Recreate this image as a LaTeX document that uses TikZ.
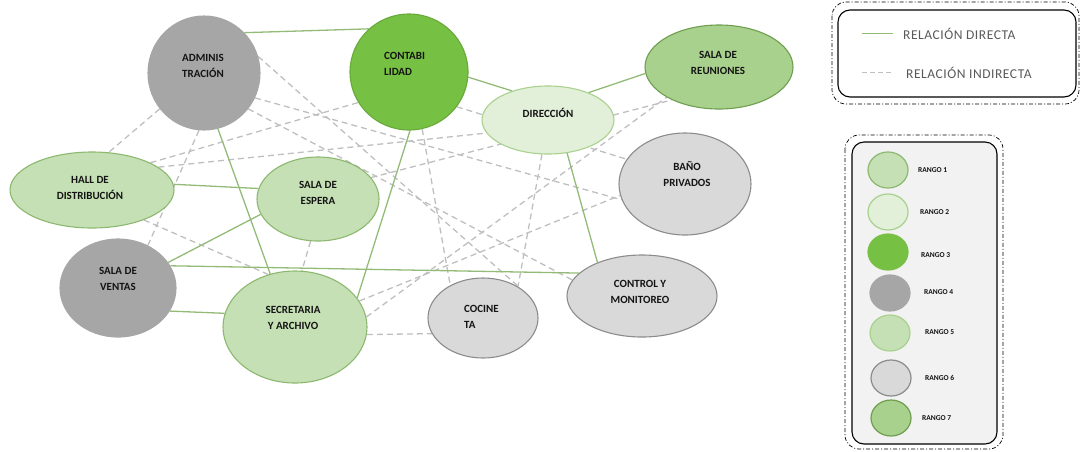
\documentclass[tikz,border=0pt]{standalone}
\usepackage{fontspec}
\setmainfont{Carlito}
\usetikzlibrary{shapes.geometric}
\pgfdeclarelayer{bg}
\pgfsetlayers{bg,main}
\definecolor{gA}{HTML}{A6A6A6}
\definecolor{gB}{HTML}{D9D9D9}
\definecolor{gBd}{HTML}{8C8C8C}
\definecolor{vA}{HTML}{C5E0B4}
\definecolor{vAd}{HTML}{8DB870}
\definecolor{vB}{HTML}{E2EFD9}
\definecolor{vBd}{HTML}{A9D18E}
\definecolor{vC}{HTML}{76C043}
\definecolor{vCd}{HTML}{68AA3A}
\definecolor{vD}{HTML}{A9D18E}
\definecolor{vDd}{HTML}{6F9E4F}
\definecolor{rel}{HTML}{93BB78}
\definecolor{ind}{HTML}{BFBFBF}
\definecolor{txt}{HTML}{141414}
\definecolor{legtxt}{HTML}{595959}
\definecolor{legbg}{HTML}{F2F2F2}
\tikzset{
  ell/.style={ellipse, inner sep=0pt, line width=1.1pt},
  lbl/.style={font=\fontsize{11}{16.5}\selectfont\bfseries, text=txt, align=center, inner sep=0pt},
  lbll/.style={lbl, align=left, anchor=west},
  direct/.style={draw=rel, line width=1.3pt},
  indirect/.style={draw=ind, line width=1.3pt, dash pattern=on 6pt off 4pt},
  legbox/.style={draw=black, line width=1.1pt, rounded corners=12pt},
  legouter/.style={draw=black, line width=0.7pt, dash pattern=on 4pt off 2pt on 1pt off 2pt, rounded corners=14pt},
  legdot/.style={ellipse, inner sep=0pt, minimum width=40pt, minimum height=36pt, line width=1.2pt},
  rgtxt/.style={font=\fontsize{7.5}{9}\selectfont\bfseries, text=txt, anchor=west, inner sep=0pt},
  reltxt/.style={font=\fontsize{13.5}{15}\selectfont\addfontfeatures{LetterSpace=4}, text=legtxt, anchor=west, inner sep=0pt}
}
\begin{document}
\begin{tikzpicture}[x=1pt,y=-1pt]
\useasboundingbox (0,0) rectangle (1081,451);
% ---------- nodes ----------
\node[ell, fill=gA, draw=gA, minimum width=112pt, minimum height=114pt] (admin) at (204,73) {};
\node[ell, fill=vC, draw=vCd, minimum width=118pt, minimum height=116pt] (contab) at (409,72) {};
\node[ell, fill=vB, draw=vBd, minimum width=132pt, minimum height=68pt] (dir) at (548,120) {};
\node[ell, fill=vD, draw=vDd, minimum width=148pt, minimum height=84pt] (reun) at (719,67) {};
\node[ell, fill=gB, draw=gBd, minimum width=132pt, minimum height=102pt] (bano) at (685,184) {};
\node[ell, fill=vA, draw=vAd, minimum width=164pt, minimum height=76pt] (hall) at (92,190) {};
\node[ell, fill=vA, draw=vAd, minimum width=122pt, minimum height=84pt] (espera) at (318,199) {};
\node[ell, fill=gA, draw=gA, minimum width=116pt, minimum height=98pt] (ventas) at (118,288) {};
\node[ell, fill=vA, draw=vAd, minimum width=144pt, minimum height=112pt] (secret) at (295,327) {};
\node[ell, fill=gB, draw=gBd, minimum width=110pt, minimum height=80pt] (cocina) at (483,318) {};
\node[ell, fill=gB, draw=gBd, minimum width=150pt, minimum height=82pt] (control) at (642,296) {};
% ---------- labels ----------
\node[lbl] (adminT) at (203,66) {ADMINIS\\TRACIÓN};
\node[lbll] (contabT) at (384,64) {CONTABI\\LIDAD};
\node[lbl] (dirT) at (548,113) {DIRECCIÓN};
\node[lbl] (reunT) at (718,63) {SALA DE\\REUNIONES};
\node[lbl] (banoT) at (687,174) {BAÑO\\PRIVADOS};
\node[lbl] (hallT) at (90,188) {HALL DE\\DISTRIBUCIÓN};
\node[lbl] (esperaT) at (318,193) {SALA DE\\ESPERA};
\node[lbl] (ventasT) at (118,279) {SALA DE\\VENTAS};
\node[lbl] (secretT) at (293,318) {SECRETARIA\\Y ARCHIVO};
\node[lbll] (cocinaT) at (464,317) {COCINE\\TA};
\node[lbl] (controlT) at (640,292) {CONTROL Y\\MONITOREO};
\begin{pgfonlayer}{bg}
% ---------- indirect connectors ----------
\draw[indirect] (admin.219) -- (hall.66);
\draw[indirect] (admin.-95) -- (ventas.55);
\draw[indirect] (admin.-26) -- (bano.194);
\draw[indirect] (admin.17) -- (cocina.40);
\draw[indirect] (admin.-39) -- (control.167);
\draw[indirect] (hall.25) -- (contab.211);
\draw[indirect] (hall.19) -- (dir.192);
\draw[indirect] (hall.-30) -- (secret.117);
\draw[indirect] (espera.-100) -- (secret.83);
\draw[indirect] (espera.22) -- (reun.215);
\draw[indirect] (contab.-77) -- (cocina.135);
\draw[indirect] (contab.-36) -- (bano.157);
\draw[indirect] (dir.-100) -- (cocina.42);
\draw[indirect] (secret.8) -- (reun.210);
\draw[indirect] (secret.22) -- (bano.190);
\draw[indirect] (secret.-6) -- (cocina.197);
% ---------- direct connectors ----------
\draw[direct] (admin.45) -- (contab.133);
\draw[direct] (contab.-5) -- (dir.141);
\draw[direct] (dir.34) -- (reun.185);
\draw[direct] (hall.4) -- (espera.170);
\draw[direct] (admin.-76) -- (secret.115);
\draw[direct] (contab.-89) -- (secret.25);
\draw[direct] (ventas.27) -- (espera.195);
\draw[direct] (ventas.23) -- (control.160);
\draw[direct] (ventas.-24) -- (secret.169);
\draw[direct] (dir.-60) -- (control.143);
\end{pgfonlayer}
% ---------- legend 1 ----------
\draw[legouter] (832,2) rectangle (1079,104);
\draw[legbox] (838,10) rectangle (1076,97);
\coordinate (l1a) at (862,33);
\coordinate (l1b) at (893,33);
\coordinate (l2a) at (862,72);
\coordinate (l2b) at (893,72);
\draw[direct, line width=1pt] (l1a) -- (l1b);
\draw[indirect, line width=1pt, dash pattern=on 5pt off 3pt] (l2a) -- (l2b);
\node[reltxt] (relD) at (903,34) {RELACIÓN DIRECTA};
\node[reltxt] (relI) at (906,73) {RELACIÓN INDIRECTA};
% ---------- legend 2 ----------
\draw[legouter] (845,135) rectangle (1003,449);
\draw[legbox, fill=legbg] (852,142) rectangle (997,444);
\node[legdot, fill=vA, draw=vAd] (r1) at (888,170) {};
\node[legdot, fill=vB, draw=vBd] (r2) at (888,212) {};
\node[legdot, fill=vC, draw=vC] (r3) at (888,252) {};
\node[legdot, fill=gA, draw=gA] (r4) at (890,293) {};
\node[legdot, fill=vA, draw=vBd] (r5) at (890,333) {};
\node[legdot, fill=gB, draw=gBd] (r6) at (891,378) {};
\node[legdot, fill=vD, draw=vDd] (r7) at (891,418) {};
\node[rgtxt] (r1T) at (918,170) {RANGO 1};
\node[rgtxt] (r2T) at (920,212) {RANGO 2};
\node[rgtxt] (r3T) at (921,255) {RANGO 3};
\node[rgtxt] (r4T) at (924,292) {RANGO 4};
\node[rgtxt] (r5T) at (925,332) {RANGO 5};
\node[rgtxt] (r6T) at (925,378) {RANGO 6};
\node[rgtxt] (r7T) at (922,418) {RANGO 7};
\end{tikzpicture}
\end{document}
